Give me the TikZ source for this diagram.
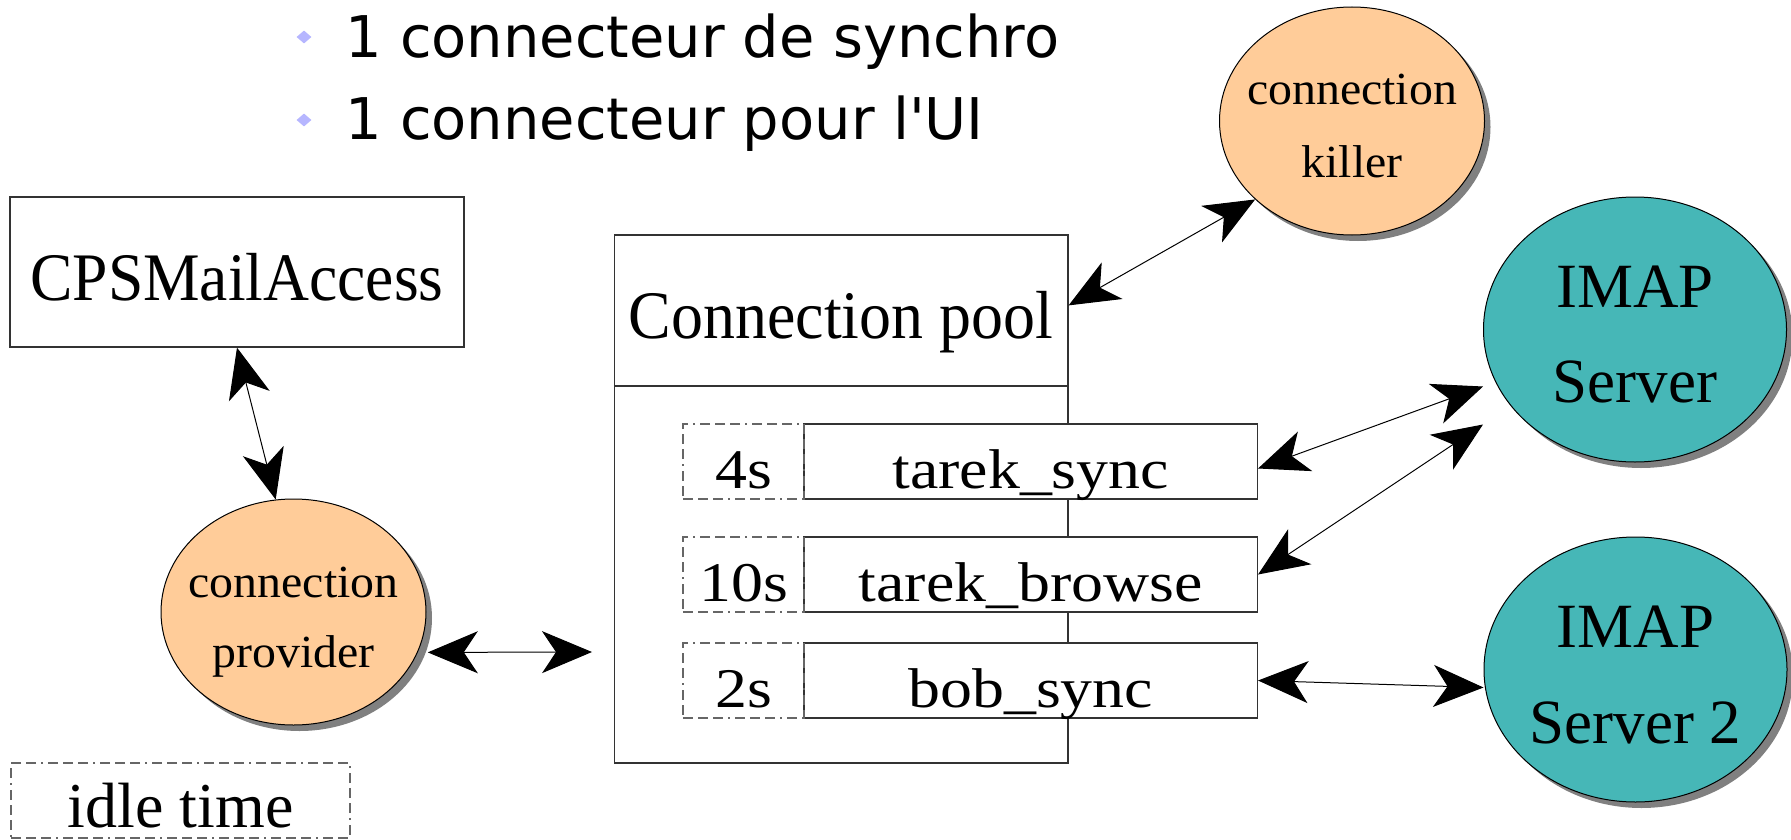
\documentclass[tikz,border=0pt]{standalone}
\usepackage{fontspec}
\usepackage{graphicx}
\setmainfont{Liberation Serif}
\newfontfamily\dejavu{DejaVu Sans}
\usetikzlibrary{shapes.geometric,shadows,arrows.meta}
\definecolor{peach}{RGB}{255,204,153}
\definecolor{sea}{RGB}{70,183,183}
\definecolor{lav}{RGB}{182,182,255}
\definecolor{shade}{RGB}{128,128,128}
\newcommand{\stx}[2]{\scalebox{#1}[1]{#2}}
\begin{document}
\begin{tikzpicture}[x=1pt,y=-1pt,
  lbl/.style={inner sep=0pt, anchor=base},
  rowtxt/.style={lbl, font=\fontsize{56}{60}\selectfont},
  smalltxt/.style={lbl, font=\fontsize{46}{50}\selectfont},
  srvtxt/.style={lbl, font=\fontsize{63}{66}\selectfont},
  bultxt/.style={inner sep=0pt, anchor=base west, font=\dejavu\fontsize{57.5}{60}\selectfont},
  bul/.style={diamond, fill=lav, inner sep=0pt, minimum width=15pt, minimum height=13pt},
  frame/.style={draw=black!80, line width=1.2pt, inner sep=0pt},
  idlebox/.style={draw=black!60, line width=1.2pt, inner sep=0pt,
    dash pattern=on 10pt off 5pt on 10pt off 5pt on 10pt off 5pt on 2pt off 5pt},
  blob/.style={ellipse, draw=black, line width=1pt, inner sep=0pt,
    drop shadow={shadow xshift=6pt, shadow yshift=-6pt, fill=shade, opacity=1}},
  link/.style={line width=1pt,
    arrows={Stealth[length=50pt,width=42pt,inset=14pt]-Stealth[length=50pt,width=42pt,inset=14pt]}},
]
\useasboundingbox (0,0) rectangle (1791,840);

% bullets
\node[bul] (b1) at (304,37) {};
\node[bultxt] (t1) at (345,58) {1 connecteur de synchro};
\node[bul] (b2) at (304,120) {};
\node[bultxt] (t2) at (345,140) {1 connecteur pour l'UI};

% CPSMailAccess
\node[frame, minimum width=454pt, minimum height=150pt] (cps) at (237,272) {};
\node[lbl, font=\fontsize{68}{70}\selectfont] (cpst) at (237,300) {\stx{0.935}{CPSMailAccess}};

% connection pool
\node[frame, minimum width=453.5pt, minimum height=528pt] (pool) at (841.25,499) {};
\coordinate (dv) at (0,386);
\draw[frame] (pool.west |- dv) -- (pool.east |- dv);
\node[lbl, font=\fontsize{68}{70}\selectfont] (poolt) at (841,338) {\stx{0.94}{Connection pool}};

% connections
\node[frame, fill=white, minimum width=453.5pt, minimum height=75pt] (ts) at (1030.7,461.5) {};
\node[rowtxt] (tst) at (1030.7,488) {\stx{1.14}{tarek\_sync}};
\node[frame, fill=white, minimum width=453.5pt, minimum height=75pt] (tb) at (1030.7,574.5) {};
\node[rowtxt] (tbt) at (1030.7,601.5) {\stx{1.14}{tarek\_browse}};
\node[frame, fill=white, minimum width=453.5pt, minimum height=75pt] (bs) at (1030.7,680.5) {};
\node[rowtxt] (bst) at (1030.7,707) {\stx{1.14}{bob\_sync}};

% idle times
\node[idlebox, minimum width=121pt, minimum height=75pt] (i1) at (743.5,461.5) {};
\node[rowtxt] (i1t) at (743.5,488) {\stx{1.14}{4s}};
\node[idlebox, minimum width=121pt, minimum height=75pt] (i2) at (743.5,574.5) {};
\node[rowtxt] (i2t) at (743.5,601.5) {\stx{1.14}{10s}};
\node[idlebox, minimum width=121pt, minimum height=75pt] (i3) at (743.5,680.5) {};
\node[rowtxt] (i3t) at (743.5,707) {\stx{1.14}{2s}};

% legend
\node[idlebox, minimum width=339pt, minimum height=75pt] (leg) at (180.5,800.5) {};
\node[lbl, font=\fontsize{64}{66}\selectfont] (legt) at (180.5,827) {idle time};

% ellipses
\node[blob, fill=peach, minimum width=265pt, minimum height=226pt] (prov) at (293.5,612) {};
\node[smalltxt] (provt1) at (293.5,597) {\stx{1.04}{connection}};
\node[smalltxt] (provt2) at (293.5,667) {\stx{1.04}{provider}};

\node[blob, fill=peach, minimum width=265pt, minimum height=228pt] (killer) at (1352,121) {};
\node[smalltxt] (killt1) at (1352,105) {\stx{1.04}{connection}};
\node[smalltxt] (killt2) at (1352,177) {\stx{1.04}{killer}};

\node[blob, fill=sea, minimum width=303pt, minimum height=265pt] (imap1) at (1635,329.5) {};
\node[srvtxt] (imap1t1) at (1635,307) {IMAP};
\node[srvtxt] (imap1t2) at (1635,402) {Server};

\node[blob, fill=sea, minimum width=303pt, minimum height=265pt] (imap2) at (1635.5,669.5) {};
\node[srvtxt] (imap2t1) at (1635.5,647) {IMAP};
\node[srvtxt] (imap2t2) at (1635.5,743) {Server 2};

% connectors
\draw[link] (cps.south) -- (prov.99);
\coordinate (pe) at (592,652);
\draw[link] ([xshift=10pt]prov.-18) -- (pe);
\draw[link] ([yshift=-71pt]pool.north east) -- (killer.219);
\draw[link] ([yshift=-7pt]ts.east) -- ([yshift=-57pt]imap1.west);
\draw[link] (tb.east) -- ([yshift=-95pt]imap1.west);
\draw[link] (bs.east) -- ([yshift=-18pt]imap2.west);
\end{tikzpicture}
\end{document}
